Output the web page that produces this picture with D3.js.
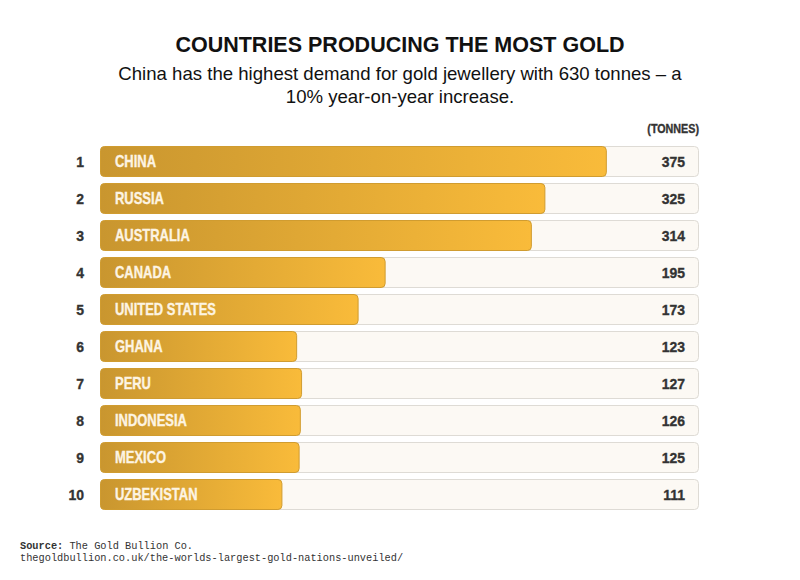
<!DOCTYPE html>
<html>
<head>
<meta charset="utf-8">
<script src="https://cdn.jsdelivr.net/npm/d3@7"></script>
<style>
  html, body { margin: 0; padding: 0; background: #ffffff; }
  svg { display: block; }
  .cond { font-family: "Liberation Sans", Arial, Helvetica, sans-serif; font-weight: 700; stroke-width: 0.35px; }
</style>
</head>
<body>
<svg id="chart" width="800" height="580"></svg>
<script>
const ranks = [1, 2, 3, 4, 5, 6, 7, 8, 9, 10];
const countries = ["CHINA", "RUSSIA", "AUSTRALIA", "CANADA", "UNITED STATES", "GHANA", "PERU", "INDONESIA", "MEXICO", "UZBEKISTAN"];
const tonnes = [375, 325, 314, 195, 173, 123, 127, 126, 125, 111];
const unitLabel = "(TONNES)";
const titleText = "COUNTRIES PRODUCING THE MOST GOLD";
const subtitleLines = ["China has the highest demand for gold jewellery with 630 tonnes – a", "10% year-on-year increase."];
const sourceName = "The Gold Bullion Co.";
const sourceUrl = "thegoldbullion.co.uk/the-worlds-largest-gold-nations-unveiled/";

const svg = d3.select("#chart");
const W = 800;
const trackLeft = 100, trackRight = 699;
const labelPad = 46;

const defs = svg.append("defs");
const grad = defs.append("linearGradient").attr("id", "gold").attr("x1", "0%").attr("x2", "100%").attr("y1", "0%").attr("y2", "0%");
grad.append("stop").attr("offset", "0%").attr("stop-color", "#c9962f");
grad.append("stop").attr("offset", "100%").attr("stop-color", "#f9bb3a");

const x = d3.scaleLinear().domain([0, 450]).range([trackLeft + labelPad, trackRight]);
const y = d3.scaleBand().domain(ranks).range([146, 510]).paddingInner(6 / 37).paddingOuter(0);
const bw = y.bandwidth();

svg.append("text").attr("x", W / 2).attr("y", 52).attr("text-anchor", "middle")
  .style("font-family", "'Liberation Sans', Arial, sans-serif").style("font-weight", 700).style("font-size", "21.5px").attr("fill", "#111")
  .text(titleText);
svg.append("g").selectAll("text").data(subtitleLines).join("text")
  .attr("x", W / 2).attr("y", (d, i) => 80 + i * 23).attr("text-anchor", "middle")
  .style("font-family", "'Liberation Sans', Arial, sans-serif").style("font-size", "18.6px").attr("fill", "#111")
  .text(d => d);

svg.append("text").attr("class", "cond")
  .attr("transform", `translate(${trackRight},133) scale(0.86,1)`).attr("text-anchor", "end")
  .style("font-size", "12.5px").attr("fill", "#333").attr("stroke", "#333").text(unitLabel);

const rows = svg.append("g").selectAll("g").data(ranks).join("g")
  .attr("transform", d => `translate(0,${y(d)})`);

rows.append("rect").attr("x", trackLeft + 0.5).attr("y", 0.5)
  .attr("width", trackRight - trackLeft - 1).attr("height", bw - 1)
  .attr("rx", 4).attr("fill", "#fcf9f4").attr("stroke", "#dedbd5");

rows.append("rect").attr("x", trackLeft + 0.5).attr("y", 0.5)
  .attr("width", (d, i) => x(tonnes[i]) - trackLeft - 1).attr("height", bw - 1)
  .attr("rx", 4).attr("fill", "url(#gold)").attr("stroke", "#d09c30");

const baseY = bw / 2 + 5.5;

rows.append("text").attr("class", "cond")
  .attr("transform", `translate(84,${baseY}) scale(0.9,1)`)
  .attr("text-anchor", "end").style("font-size", "15.5px").attr("fill", "#333").attr("stroke", "#333").text(d => d);

rows.append("text").attr("class", "cond")
  .attr("transform", `translate(115,${baseY}) scale(0.81,1)`)
  .style("font-size", "16px").attr("fill", "#fdf4e3").attr("stroke", "#fdf4e3").text((d, i) => countries[i]);

rows.append("text").attr("class", "cond")
  .attr("transform", `translate(685,${baseY}) scale(0.9,1)`)
  .attr("text-anchor", "end").style("font-size", "15.5px").attr("fill", "#333").attr("stroke", "#333").text((d, i) => tonnes[i]);

const src = svg.append("g").style("font-family", "'Liberation Mono', 'DejaVu Sans Mono', monospace").style("font-size", "10.3px").attr("fill", "#333");
const t1 = src.append("text").attr("x", 20).attr("y", 549);
t1.append("tspan").style("font-weight", 700).text("Source:");
t1.append("tspan").text(" " + sourceName);
src.append("text").attr("x", 20).attr("y", 561).text(sourceUrl);
</script>
</body>
</html>
